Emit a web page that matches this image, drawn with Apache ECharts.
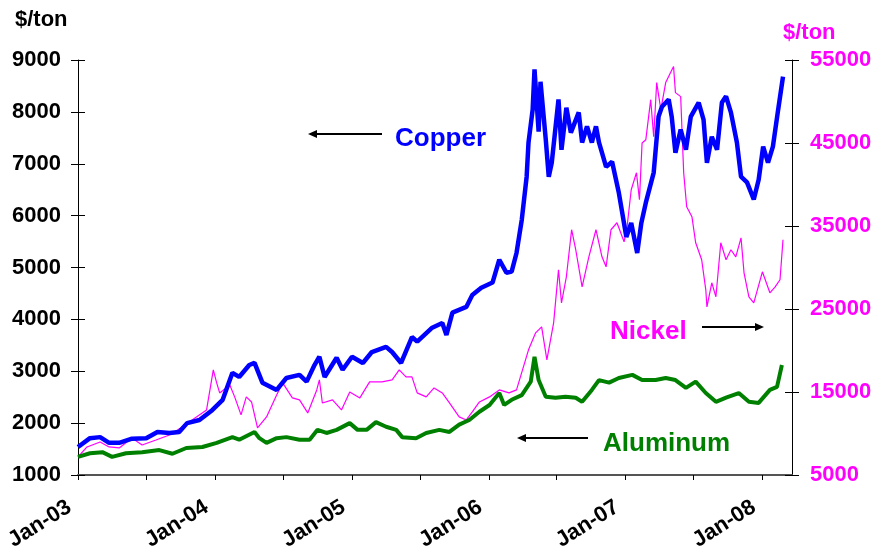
<!DOCTYPE html>
<html>
<head>
<meta charset="utf-8">
<title>Copper, Nickel, Aluminum</title>
<script src="https://cdn.jsdelivr.net/npm/echarts@6/dist/echarts.min.js"></script>
<style>
  html, body { margin: 0; padding: 0; background: #fff; }
  #chart { width: 880px; height: 552px; }
</style>
</head>
<body>
<div id="chart"></div>
<script>
// prices in $/ton (copper / aluminum on the left axis, nickel on the right)
const copper = [
  ['2003-01-01', 1540], ['2003-02-02', 1710], ['2003-03-01', 1730], ['2003-03-25', 1620],
  ['2003-04-21', 1620], ['2003-05-25', 1700], ['2003-07-02', 1710], ['2003-08-01', 1830],
  ['2003-09-02', 1810], ['2003-09-28', 1830], ['2003-10-19', 2000], ['2003-11-21', 2060],
  ['2003-12-25', 2250], ['2004-01-22', 2450], ['2004-02-17', 2970], ['2004-03-06', 2890],
  ['2004-04-02', 3120], ['2004-04-16', 3160], ['2004-05-07', 2780], ['2004-06-14', 2640],
  ['2004-07-10', 2870], ['2004-08-14', 2930], ['2004-09-02', 2800], ['2004-09-23', 3120],
  ['2004-10-06', 3280], ['2004-10-20', 2890], ['2004-11-21', 3260], ['2004-12-07', 3030],
  ['2005-01-01', 3280], ['2005-01-30', 3160], ['2005-02-23', 3370], ['2005-04-02', 3470],
  ['2005-04-18', 3370], ['2005-05-12', 3160], ['2005-06-10', 3660], ['2005-06-24', 3570],
  ['2005-08-03', 3840], ['2005-08-30', 3930], ['2005-09-10', 3700], ['2005-09-26', 4130],
  ['2005-11-02', 4240], ['2005-11-18', 4470], ['2005-12-12', 4610], ['2006-01-11', 4710],
  ['2006-01-29', 5150], ['2006-02-17', 4900], ['2006-03-03', 4920], ['2006-03-16', 5280],
  ['2006-03-30', 5920], ['2006-04-12', 6750], ['2006-04-17', 7410], ['2006-04-28', 8040],
  ['2006-05-03', 8820], ['2006-05-14', 7620], ['2006-05-19', 8580], ['2006-06-02', 7470],
  ['2006-06-10', 6750], ['2006-06-18', 7020], ['2006-07-06', 8240], ['2006-07-14', 7270],
  ['2006-07-27', 8080], ['2006-08-08', 7600], ['2006-08-29', 7990], ['2006-09-07', 7410],
  ['2006-09-20', 7720], ['2006-10-03', 7410], ['2006-10-14', 7720], ['2006-10-22', 7410],
  ['2006-11-10', 6940], ['2006-11-26', 7040], ['2006-12-14', 6440], ['2007-01-03', 5590],
  ['2007-01-16', 5860], ['2007-02-01', 5280], ['2007-02-12', 5860], ['2007-02-24', 6250],
  ['2007-03-17', 6830], ['2007-03-30', 7910], ['2007-04-08', 8100], ['2007-04-26', 8240],
  ['2007-05-04', 7910], ['2007-05-14', 7210], ['2007-05-28', 7660], ['2007-06-11', 7270],
  ['2007-06-24', 7910], ['2007-07-15', 8180], ['2007-07-28', 7850], ['2007-08-06', 7020],
  ['2007-08-19', 7520], ['2007-09-02', 7270], ['2007-09-15', 8180], ['2007-09-26', 8300],
  ['2007-10-09', 7990], ['2007-10-25', 7410], ['2007-11-05', 6750], ['2007-11-21', 6640],
  ['2007-12-09', 6310], ['2007-12-22', 6690], ['2008-01-03', 7330], ['2008-01-16', 7020],
  ['2008-01-29', 7330], ['2008-02-12', 8040], ['2008-02-25', 8680]
];

const nickel = [
  ['2003-01-01', 7170], ['2003-01-25', 8380], ['2003-03-01', 8980], ['2003-03-25', 8380],
  ['2003-04-21', 8260], ['2003-05-25', 9460], ['2003-06-21', 8620], ['2003-07-28', 9220],
  ['2003-09-02', 9820], ['2003-10-06', 10790], ['2003-11-13', 12000], ['2003-12-10', 12840],
  ['2003-12-28', 17660], ['2004-01-06', 16100], ['2004-01-14', 14890], ['2004-02-10', 15850],
  ['2004-02-23', 14410], ['2004-03-11', 12240], ['2004-03-25', 14410], ['2004-04-08', 13800],
  ['2004-04-24', 10670], ['2004-05-18', 12000], ['2004-06-14', 14650], ['2004-06-30', 16100],
  ['2004-07-26', 14290], ['2004-08-14', 14050], ['2004-09-05', 12480], ['2004-09-29', 15250],
  ['2004-10-06', 16460], ['2004-10-14', 13680], ['2004-11-10', 14050], ['2004-12-04', 12840],
  ['2004-12-26', 15010], ['2005-01-22', 14290], ['2005-02-17', 16220], ['2005-03-22', 16220],
  ['2005-04-18', 16460], ['2005-05-07', 17660], ['2005-05-25', 16820], ['2005-06-10', 16820],
  ['2005-06-24', 14890], ['2005-07-18', 14410], ['2005-08-08', 15490], ['2005-08-30', 14890],
  ['2005-09-18', 13680], ['2005-10-14', 12000], ['2005-11-02', 11630], ['2005-11-18', 12600],
  ['2005-12-07', 13800], ['2006-01-03', 14410], ['2006-01-29', 15250], ['2006-02-24', 14890],
  ['2006-03-16', 15250], ['2006-04-17', 20080], ['2006-05-06', 22130], ['2006-05-22', 22850],
  ['2006-06-05', 18870], ['2006-06-23', 23330], ['2006-07-06', 29720], ['2006-07-14', 25740],
  ['2006-07-27', 28880], ['2006-08-10', 34550], ['2006-08-21', 32140], ['2006-09-07', 27670],
  ['2006-09-25', 31290], ['2006-10-14', 34550], ['2006-10-30', 31290], ['2006-11-10', 30080],
  ['2006-11-23', 34550], ['2006-12-09', 35390], ['2006-12-28', 33100], ['2007-01-05', 34910],
  ['2007-01-16', 39370], ['2007-01-30', 41420], ['2007-02-07', 38170], ['2007-02-14', 45000],
  ['2007-02-24', 45400], ['2007-03-09', 50220], ['2007-03-17', 45760], ['2007-03-25', 52280],
  ['2007-04-05', 49020], ['2007-04-18', 52280], ['2007-05-01', 53490], ['2007-05-09', 54210],
  ['2007-05-14', 51070], ['2007-05-28', 50590], ['2007-06-05', 41420], ['2007-06-13', 37320],
  ['2007-06-27', 36120], ['2007-07-07', 32980], ['2007-07-23', 30930], ['2007-08-03', 27310],
  ['2007-08-06', 25260], ['2007-08-19', 28160], ['2007-08-30', 26470], ['2007-09-12', 32980],
  ['2007-09-26', 30930], ['2007-10-09', 32140], ['2007-10-22', 31290], ['2007-11-05', 33580],
  ['2007-11-13', 29360], ['2007-11-26', 26470], ['2007-12-09', 25740], ['2008-01-01', 29480],
  ['2008-01-21', 26950], ['2008-02-04', 27670], ['2008-02-17', 28520], ['2008-02-25', 33340]
];

const aluminum = [
  ['2003-01-01', 1350], ['2003-02-02', 1420], ['2003-03-07', 1440], ['2003-04-02', 1350],
  ['2003-05-09', 1420], ['2003-06-21', 1440], ['2003-08-06', 1480], ['2003-09-10', 1410],
  ['2003-10-17', 1520], ['2003-11-29', 1540], ['2004-01-06', 1620], ['2004-02-17', 1730],
  ['2004-03-06', 1680], ['2004-04-16', 1830], ['2004-04-29', 1710], ['2004-05-18', 1620],
  ['2004-06-14', 1710], ['2004-07-10', 1730], ['2004-08-14', 1680], ['2004-09-10', 1680],
  ['2004-10-01', 1870], ['2004-10-25', 1810], ['2004-11-21', 1870], ['2004-12-26', 2000],
  ['2005-01-16', 1870], ['2005-02-09', 1870], ['2005-03-06', 2020], ['2005-04-02', 1930],
  ['2005-04-29', 1870], ['2005-05-15', 1730], ['2005-06-21', 1710], ['2005-07-18', 1810],
  ['2005-08-22', 1870], ['2005-09-18', 1830], ['2005-10-14', 1970], ['2005-11-10', 2060],
  ['2005-12-07', 2220], ['2006-01-03', 2350], ['2006-01-29', 2580], ['2006-02-11', 2350],
  ['2006-03-03', 2450], ['2006-03-30', 2540], ['2006-04-23', 2800], ['2006-05-03', 3280],
  ['2006-05-14', 2830], ['2006-06-02', 2510], ['2006-06-28', 2490], ['2006-07-25', 2510],
  ['2006-08-21', 2490], ['2006-09-07', 2410], ['2006-10-03', 2640], ['2006-10-22', 2830],
  ['2006-11-18', 2780], ['2006-12-14', 2870], ['2007-01-19', 2930], ['2007-02-14', 2830],
  ['2007-03-22', 2830], ['2007-04-18', 2870], ['2007-05-14', 2830], ['2007-06-11', 2680],
  ['2007-07-07', 2800], ['2007-08-03', 2580], ['2007-08-30', 2410], ['2007-09-26', 2490],
  ['2007-10-30', 2580], ['2007-11-26', 2410], ['2007-12-22', 2390], ['2008-01-21', 2640],
  ['2008-02-09', 2700], ['2008-02-22', 3120]
];

// x ticks every half year, labels only on January
const tickDates = [
  '2003-01-01', '2003-07-01', '2004-01-01', '2004-07-01', '2005-01-01', '2005-07-01',
  '2006-01-01', '2006-07-01', '2007-01-01', '2007-07-01', '2008-01-01'
];
const labelDates = ['2003-01-01', '2004-01-01', '2005-01-01', '2006-01-01', '2007-01-01', '2008-01-01'];
const xStart = '2003-01-01';
const xEnd = '2008-03-20';

const leftTicks = { min: 1000, max: 9000, step: 1000 };
const rightTicks = { min: 5000, max: 55000, step: 10000 };

const FONT = 'Liberation Sans, Arial, sans-serif';
const toTime = s => echarts.time.parse(s).getTime();
const toPoints = rows => rows.map(r => [toTime(r[0]), r[1]]);

const chart = echarts.init(document.getElementById('chart'));

// small arrow: line plus a filled head
function arrow(x1, x2, y) {
  const dir = x2 > x1 ? 1 : -1;
  return {
    type: 'group',
    children: [
      { type: 'line', shape: { x1: x1, y1: y, x2: x2 - dir * 6, y2: y },
        style: { stroke: '#000', lineWidth: 2 } },
      { type: 'polygon', shape: { points: [[x2, y], [x2 - dir * 9, y - 4], [x2 - dir * 9, y + 4]] },
        style: { fill: '#000' } }
    ]
  };
}

function label(text, x, y, color) {
  return {
    type: 'text', x: x, y: y,
    style: { text: text, fill: color, font: 'bold 26px ' + FONT, textVerticalAlign: 'middle' }
  };
}

const valueAxis = (side, t, color, margin) => ({
  type: 'value',
  position: side,
  min: t.min,
  max: t.max,
  interval: t.step,
  splitLine: { show: false },
  axisLine: { show: true, lineStyle: { color: '#000', width: 1 } },
  axisTick: { show: true, length: 7, lineStyle: { color: '#000' } },
  axisLabel: {
    color: color, fontFamily: FONT, fontWeight: 'bold', fontSize: 22, margin: margin,
    formatter: v => String(v)
  }
});

// same scale again, only to draw the inner half of the crossing ticks
const innerTicks = (side, t) => ({
  type: 'value',
  position: side,
  min: t.min,
  max: t.max,
  interval: t.step,
  splitLine: { show: false },
  axisLine: { show: false },
  axisTick: { show: true, inside: true, length: 7, lineStyle: { color: '#000' } },
  axisLabel: { show: false }
});

const option = {
  animation: false,
  grid: { left: 78, right: 88, top: 60, bottom: 77, outerBoundsMode: 'none' },
  xAxis: {
    type: 'value',
    min: toTime(xStart),
    max: toTime(xEnd),
    splitLine: { show: false },
    axisLine: { lineStyle: { color: '#555', width: 2 } },
    axisTick: { length: 5, lineStyle: { color: '#000' }, customValues: tickDates.map(toTime) },
    axisLabel: {
      customValues: labelDates.map(toTime),
      rotate: 32,
      margin: 25,
      padding: [0, 10, 0, 0],
      color: '#000',
      fontFamily: FONT,
      fontWeight: 'bold',
      fontSize: 22,
      formatter: function (val) {
        const d = new Date(val);
        return 'Jan-' + String(d.getFullYear()).slice(2);
      }
    }
  },
  yAxis: [
    valueAxis('left', leftTicks, '#000', 17),
    valueAxis('right', rightTicks, '#FF00FF', 18),
    innerTicks('left', leftTicks),
    innerTicks('right', rightTicks)
  ],
  series: [
    {
      name: 'Nickel', type: 'line', yAxisIndex: 1, data: toPoints(nickel),
      showSymbol: false, lineStyle: { color: '#FF00FF', width: 1.2 }
    },
    {
      name: 'Aluminum', type: 'line', yAxisIndex: 0, data: toPoints(aluminum),
      showSymbol: false, lineStyle: { color: '#008000', width: 4 }
    },
    {
      name: 'Copper', type: 'line', yAxisIndex: 0, data: toPoints(copper),
      showSymbol: false, lineStyle: { color: '#0000FF', width: 4.5 }
    }
  ],
  graphic: [
    { type: 'text', left: 15, top: 9,
      style: { text: '$/ton', fill: '#000', font: 'bold 22px ' + FONT } },
    { type: 'text', left: 783, top: 22,
      style: { text: '$/ton', fill: '#FF00FF', font: 'bold 22px ' + FONT } },
    label('Copper', 395, 139, '#0000FF'),
    arrow(382, 308, 134),
    label('Nickel', 610, 332, '#FF00FF'),
    arrow(702, 764, 327),
    label('Aluminum', 603, 444, '#008000'),
    arrow(588, 517, 438)
  ]
};

chart.setOption(option);
</script>
</body>
</html>
